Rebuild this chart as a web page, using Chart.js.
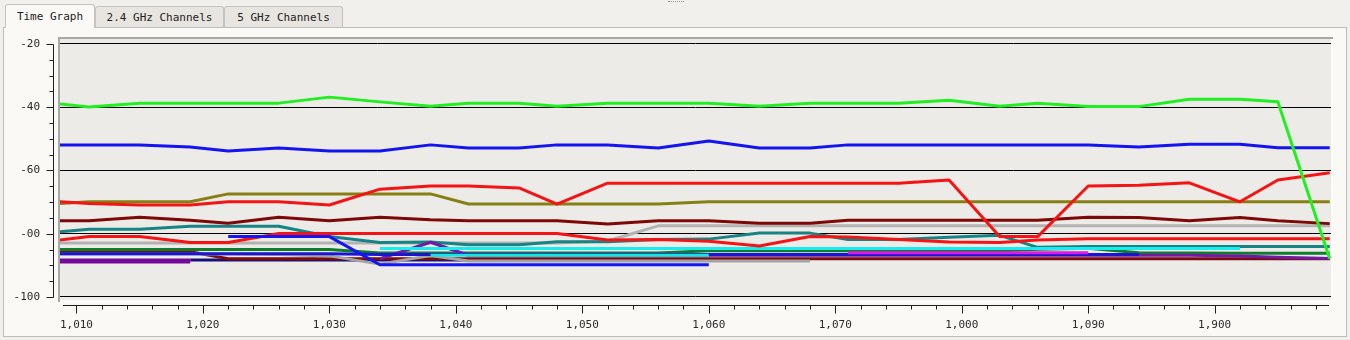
<!DOCTYPE html>
<html>
<head>
<meta charset="utf-8">
<title>Time Graph</title>
<script src="https://cdn.jsdelivr.net/npm/chart.js@4.4.1/dist/chart.umd.min.js"></script>
<style>
  html, body { margin: 0; padding: 0; }
  body {
    width: 1350px; height: 340px; position: relative; overflow: hidden;
    background: #f2f0ec;
    font-family: "DejaVu Sans Mono", monospace; font-size: 11px; color: #222;
  }
  .grip { position: absolute; left: 668px; top: 1px; width: 16px; border-top: 1px dotted #9a9a9a; }
  .panel {
    position: absolute; left: 3px; top: 27px; width: 1342px; height: 308px;
    background: #faf9f6; border: 1px solid #bdbdbd;
  }
  .tab {
    position: absolute; top: 6px; height: 21px; line-height: 21px; box-sizing: border-box;
    background: #e8e5e0; border: 1px solid #c3c3c3; border-bottom: none;
    border-radius: 3px 3px 0 0; text-align: center; white-space: nowrap;
  }
  .tab.active { top: 4px; height: 24px; line-height: 24px; background: #faf9f6; z-index: 2; }
  #chart { position: absolute; left: 0; top: 0; z-index: 3; }
</style>
</head>
<body>
<div class="grip"></div>
<div class="panel"></div>
<div class="tab active" style="left:5px;width:90px;">Time Graph</div>
<div class="tab" style="left:95px;width:129px;">2.4 GHz Channels</div>
<div class="tab" style="left:224px;width:119px;">5 GHz Channels</div>
<canvas id="chart" width="1350" height="340"></canvas>
<script>
// Час вибірок (вісь X)
const times = [1008.7, 1011, 1015, 1019, 1022, 1026, 1030, 1034, 1038, 1041, 1045, 1048, 1052, 1056,
               1060, 1064, 1068, 1071, 1075, 1079, 1083, 1086, 1090, 1094, 1098, 1102, 1105, 1109.1];

// Підписи осей
const xTickValues = [1010, 1020, 1030, 1040, 1050, 1060, 1070, 1080, 1090, 1100];
const xTickLabels = ["1,010", "1,020", "1,030", "1,040", "1,050", "1,060", "1,070", "1,000", "1,090", "1,900"];
const yTickValues = [-100, -80, -60, -40, -20];
const yTickLabels = ["-100", "-00", "-60", "-40", "-20"];

// Рівні сигналу, dBm
const greenLevels = [-39.0, -39.9, -38.7, -38.7, -38.7, -38.7, -36.8, -38.3, -39.7, -38.7, -38.7, -39.7, -38.7, -38.7,
                     -38.7, -39.7, -38.7, -38.7, -38.7, -37.8, -39.7, -38.7, -39.8, -39.8, -37.5, -37.5, -38.3, -87.9];
const blueTopLevels = [-51.9, -51.9, -51.9, -52.6, -53.8, -52.9, -53.8, -53.8, -51.9, -52.9, -52.9, -51.9, -51.9, -52.9,
                       -50.7, -52.9, -52.9, -51.9, -51.9, -51.9, -51.9, -51.9, -51.9, -52.6, -51.7, -51.7, -52.8, -52.8];
const redTopLevels = [-69.9, -70.4, -70.9, -70.9, -69.9, -69.9, -70.9, -65.9, -64.9, -64.9, -65.5, -70.6, -64.0, -64.0,
                      -64.0, -64.0, -64.0, -64.0, -64.0, -63.0, -80.9, -80.9, -64.9, -64.7, -63.9, -69.9, -63.0, -60.7];
const oliveLevels = [-70.4, -69.9, -69.9, -69.9, -67.4, -67.4, -67.4, -67.4, -67.4, -70.6, -70.6, -70.6, -70.6, -70.6,
                     -69.9, -69.9, -69.9, -69.9, -69.9, -69.9, -69.9, -69.9, -69.9, -69.9, -69.9, -69.9, -69.9, -69.9];
const darkRedLevels = [-75.9, -75.9, -74.8, -75.7, -76.7, -74.8, -75.9, -74.8, -75.6, -75.9, -75.9, -75.9, -76.9, -75.9,
                       -75.9, -76.7, -76.7, -75.7, -75.7, -75.7, -75.7, -75.7, -74.8, -74.9, -75.9, -74.9, -75.9, -76.8];
const grayTopLevels = [-82.9, -82.9, -82.9, -82.9, -82.9, -82.9, -82.9, -82.9, -82.9, -82.9, -82.9, -82.9, -82.3, -77.5,
                       -77.5, -77.5, -77.5, -77.5, -77.5, -77.5, -77.5, -77.5, -77.5, -77.5, -77.5, -77.5, -77.5, -77.5];
const tealLevels = [-79.4, -78.6, -78.6, -77.6, -77.6, -77.6, -80.9, -82.8, -82.6, -83.5, -83.5, -82.5, -82.5, -81.8,
                    -81.7, -79.8, -79.8, -81.8, -81.8, -81.1, -80.5, -84.3, -84.0, -84.0, -84.0, -84.0, -84.0, -84.0];
const redLowLevels = [-82.0, -80.9, -80.9, -82.8, -82.8, -79.9, -79.9, -79.9, -79.9, -79.9, -79.9, -79.9, -82.0, -81.8,
                      -82.4, -83.9, -80.9, -81.0, -81.8, -82.6, -82.8, -82.0, -81.6, -81.6, -81.6, -81.6, -81.6, -81.6];
const blueDropLevels = [null, null, null, null, -80.9, -80.9, -80.9, -89.8, -89.8, -89.8, -89.8, -89.8, -89.8, -89.8,
                        -89.8, null, null, null, null, null, null, null, null, null, null, null, null, null];
const grayLowLevels = [-86.4, -86.4, -86.4, -86.4, -86.4, -86.6, -87.0, -89.6, -86.9, -88.6, -88.6, -88.6, -88.6, -88.6,
                       -88.6, -88.6, -88.6, null, null, null, null, null, null, null, null, null, null, null];
const purpleWideLevels = [-88.6, -88.6, -88.6, -88.6, null, null, null, null, null, null, null, null, null, null,
                          null, null, null, null, null, null, null, null, null, null, null, null, null, null];
const purpleLevels = [null, null, null, null, null, null, null, -87.9, -82.7, -86.8, -86.8, -86.8, -86.8, -86.8,
                      -86.8, -86.8, -86.8, -86.8, -86.8, -86.8, -86.8, -86.8, -86.8, -86.8, -86.8, -87.0, -87.4, -87.8];
const cyanTopLevels = [null, null, null, null, null, null, null, -84.7, -84.7, -84.7, -84.7, -84.7, -84.7, -84.7,
                       -84.7, -84.7, -84.7, -84.7, -84.7, -84.7, -84.7, -84.7, -84.7, -84.7, -84.7, -84.7, null, null];
const cyanLowLevels = [null, null, null, null, null, null, null, null, -86.8, -86.8, -86.8, -86.8, -86.8, -86.8,
                       -86.8, null, null, null, null, null, null, null, null, null, null, null, null, null];
const darkGreenLevels = [-85.0, -85.0, -85.0, -85.0, -85.0, -85.0, -85.0, -86.1, -86.1, -86.1, -86.1, -86.1, -86.1, -86.1,
                         -85.4, -85.4, -85.4, -85.4, -85.4, -85.4, -85.4, -84.9, -84.6, -86.0, -86.1, -86.2, -86.2, -86.2];
const magentaLevels = [null, null, null, null, null, null, null, null, null, null, null, null, null, null,
                       null, null, null, -86.0, -86.0, -86.0, -86.0, -86.0, -86.0, null, null, null, null, null];
const blueLowLevels = [-86.3, -86.3, -86.3, -86.3, -86.3, -86.3, -86.3, -86.6, -86.6, -86.6, -86.6, -86.6, -86.6, -86.6,
                       -86.6, -86.6, -86.6, -86.6, -86.6, -86.6, -86.6, -86.6, -86.6, -86.6, null, null, null, null];
const maroonLevels = [-85.7, -85.7, -85.7, -85.7, -87.9, -87.9, -87.9, -87.9, -87.9, -87.9, -87.9, -87.9, -87.9, -87.9,
                      -87.9, -87.9, -87.9, -87.9, -87.9, -87.9, -87.9, -87.9, -87.9, -87.9, -87.9, -87.9, -87.9, -87.9];
const navyLevels = [null, null, null, -88.3, -88.3, -88.3, -88.3, -88.3, -88.3, -88.3, -88.3, -88.3, -88.3, -88.3,
                    null, null, null, null, null, null, null, null, null, null, null, null, null, null];

// Порядок: перша лінія малюється поверх усіх
const seriesList = [
    { data: greenLevels, color: "#1ff01f" },
    { data: blueDropLevels, color: "#1414f4" },
    { data: redTopLevels, color: "#f41414" },
    { data: blueTopLevels, color: "#1414f0" },
    { data: oliveLevels, color: "#868014" },
    { data: darkRedLevels, color: "#7c0808" },
    { data: redLowLevels, color: "#f41414" },
    { data: cyanLowLevels, color: "#14e4e4" },
    { data: cyanTopLevels, color: "#18ecec" },
    { data: magentaLevels, color: "#e21ae2" },
    { data: blueLowLevels, color: "#1a14d8" },
    { data: purpleLevels, color: "#721aa6" },
    { data: tealLevels, color: "#168484" },
    { data: grayTopLevels, color: "#b2b2b2" },
    { data: darkGreenLevels, color: "#0e7e2c" },
    { data: grayLowLevels, color: "#a4a4a4" },
    { data: purpleWideLevels, color: "#720a9c", width: 5 },
    { data: maroonLevels, color: "#7a0c10" },
    { data: navyLevels, color: "#141078" }
];

// Рамка області графіка та осі з дрібними поділками
const plotFrame = {
    id: "plotFrame",
    beforeDraw(chart) {
        const { ctx, chartArea: a } = chart;
        ctx.save();
        ctx.fillStyle = "#edebe7";
        ctx.fillRect(a.left, a.top, a.right - a.left, a.bottom - a.top);
        ctx.restore();
    },
    afterDraw(chart) {
        const { ctx, chartArea: a } = chart;
        const xs = chart.scales.x;
        const ys = chart.scales.y;
        ctx.save();

        ctx.lineWidth = 2;
        ctx.strokeStyle = "#a8a8a8";
        ctx.beginPath();
        ctx.moveTo(a.left - 1, a.bottom + 2);
        ctx.lineTo(a.left - 1, a.top - 1);
        ctx.lineTo(a.right + 2, a.top - 1);
        ctx.stroke();
        ctx.lineWidth = 1;
        ctx.strokeStyle = "#ffffff";
        ctx.beginPath();
        ctx.moveTo(a.left, a.bottom + 1.5);
        ctx.lineTo(a.right + 1.5, a.bottom + 1.5);
        ctx.lineTo(a.right + 1.5, a.top);
        ctx.stroke();

        ctx.strokeStyle = "#1e1e1e";
        ctx.lineWidth = 1;

        // вісь Y
        const ax = a.left - 6.5;
        const yLo = yTickValues[0], yHi = yTickValues[yTickValues.length - 1];
        ctx.beginPath();
        ctx.moveTo(ax, Math.round(ys.getPixelForValue(yHi)) + 0.5);
        ctx.lineTo(ax, Math.round(ys.getPixelForValue(yLo)) + 0.5);
        for (let v = yLo; v <= yHi; v += 5) {
            const py = Math.round(ys.getPixelForValue(v)) + 0.5;
            const len = yTickValues.includes(v) ? 7 : 4;
            ctx.moveTo(ax - len, py);
            ctx.lineTo(ax, py);
        }
        ctx.stroke();

        // вісь X
        const ay = a.bottom + 5.5;
        ctx.beginPath();
        ctx.moveTo(a.left + 3, ay);
        ctx.lineTo(a.right - 2, ay);
        for (let v = xTickValues[0]; xs.getPixelForValue(v) < a.right; v += 2) {
            const px = Math.round(xs.getPixelForValue(v)) + 0.5;
            const len = xTickValues.includes(v) ? 8 : 4;
            ctx.moveTo(px, ay);
            ctx.lineTo(px, ay + len);
        }
        ctx.stroke();
        ctx.restore();
    }
};

document.addEventListener("DOMContentLoaded", function () {
    Chart.defaults.font.family = "'DejaVu Sans Mono', monospace";
    Chart.defaults.font.size = 11;
    Chart.defaults.color = "#2a2a2a";

    const datasets = seriesList.map(s => ({
        data: s.data.map((v, i) => ({ x: times[i], y: v })),
        borderColor: s.color,
        borderWidth: s.width || 3,
        pointRadius: 0,
        tension: 0,
        borderJoinStyle: "round",
        fill: false
    }));

    const ctx = document.getElementById("chart").getContext("2d");
    new Chart(ctx, {
        type: "line",
        data: { datasets: datasets },
        plugins: [plotFrame],
        options: {
            responsive: false,
            animation: false,
            devicePixelRatio: 1,
            layout: { padding: { left: 0, top: 39, right: 19, bottom: 0 } },
            plugins: {
                legend: { display: false },
                tooltip: { enabled: false }
            },
            scales: {
                x: {
                    type: "linear",
                    min: 1008.7,
                    max: 1109.2,
                    grid: { display: false, drawTicks: false },
                    border: { display: false },
                    afterBuildTicks: scale => { scale.ticks = xTickValues.map(v => ({ value: v })); },
                    afterFit: scale => { scale.height = 40; },
                    ticks: {
                        padding: 19,
                        maxRotation: 0,
                        autoSkip: false,
                        callback: (value, index) => xTickLabels[index]
                    }
                },
                y: {
                    min: -100.95,
                    max: -18.42,
                    grid: { color: "#000000", lineWidth: 1, drawTicks: false },
                    border: { display: false },
                    afterBuildTicks: scale => { scale.ticks = yTickValues.map(v => ({ value: v })); },
                    afterFit: scale => { scale.width = 60; },
                    ticks: {
                        padding: 20,
                        autoSkip: false,
                        callback: (value, index) => yTickLabels[index]
                    }
                }
            }
        }
    });
});
</script>
</body>
</html>
